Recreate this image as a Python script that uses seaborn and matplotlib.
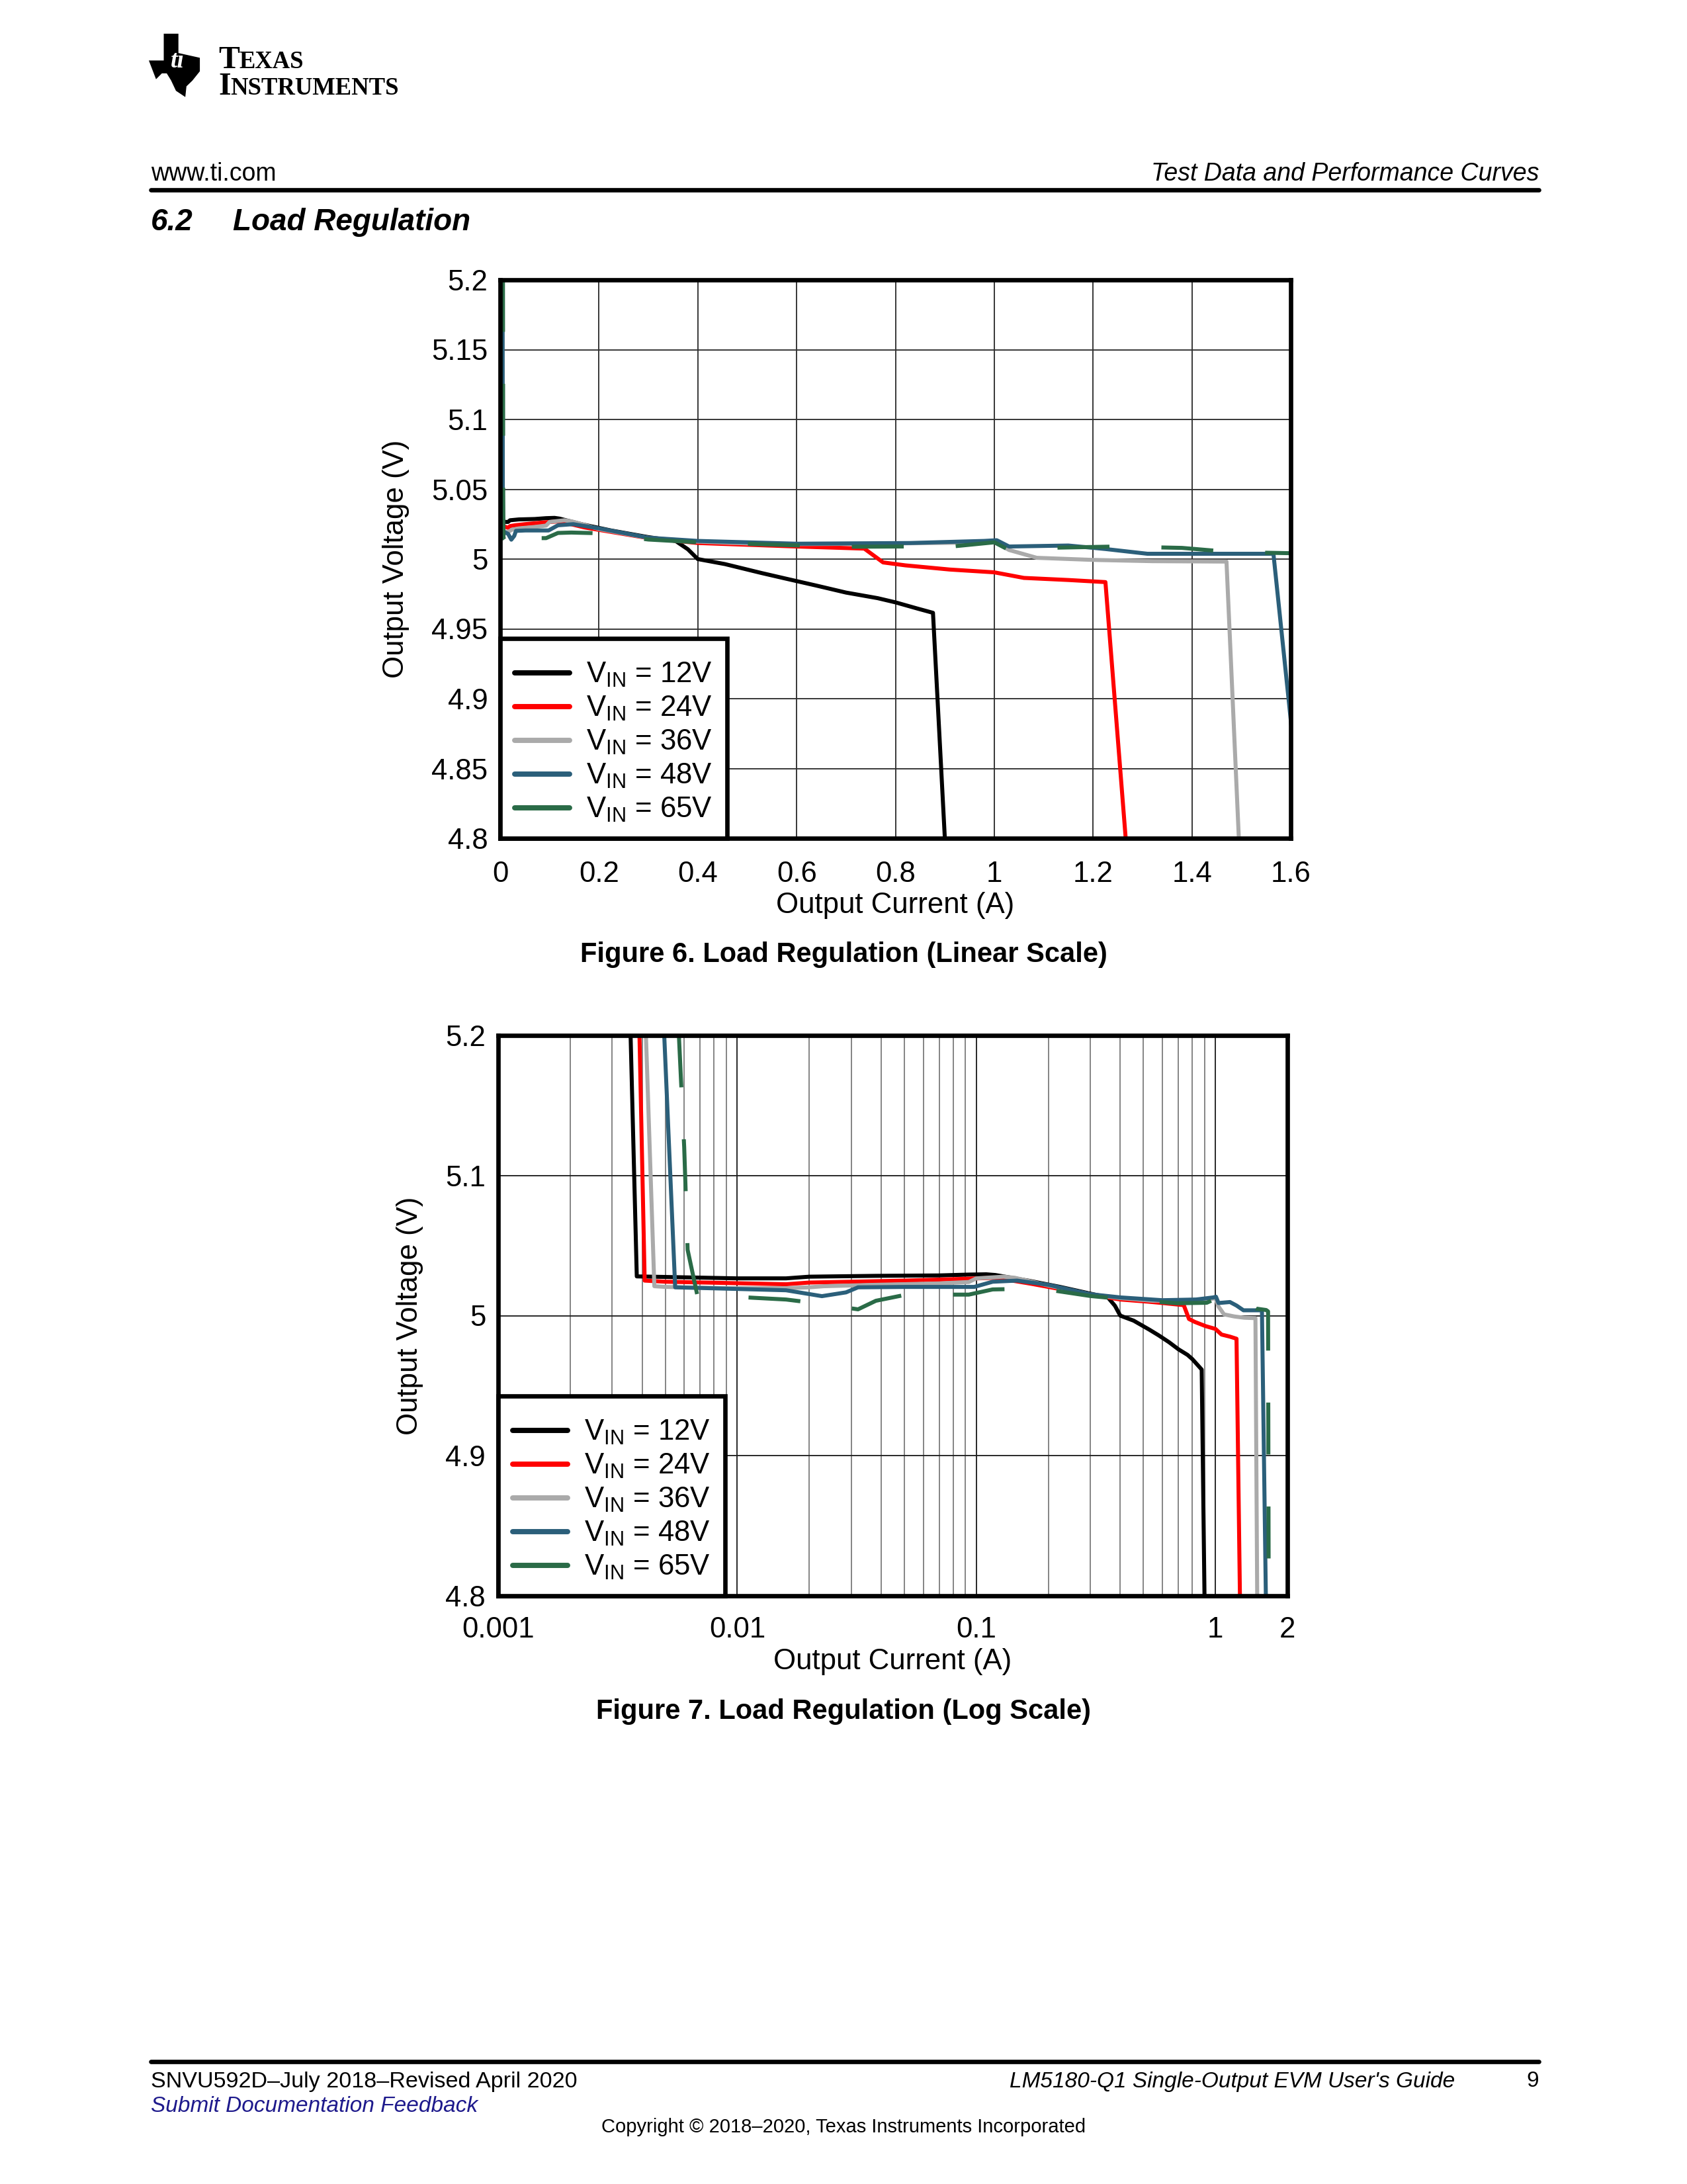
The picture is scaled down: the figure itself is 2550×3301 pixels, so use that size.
import matplotlib
matplotlib.use("Agg")
import numpy as np
import pandas as pd
import matplotlib.pyplot as plt
import seaborn as sns
from matplotlib.lines import Line2D
from matplotlib.patches import Polygon
from matplotlib.ticker import FixedLocator, FuncFormatter, NullFormatter

# load regulation curves
vin_labels = ["12V", "24V", "36V", "48V", "65V"]
line_colors = ["#000000", "#FF0000", "#AAAAAA", "#2B5F7A", "#2A6B47"]

i_12v = [0.00358, 0.0038, 0.0066, 0.01, 0.016, 0.02, 0.038, 0.07, 0.093, 0.11, 0.12, 0.167,
         0.224, 0.3, 0.355, 0.38, 0.40, 0.455, 0.529, 0.578, 0.64, 0.70, 0.764, 0.80, 0.845,
         0.876, 0.90]
v_12v = [5.2, 5.028, 5.0272, 5.0266, 5.0266, 5.0278, 5.0284, 5.0287, 5.0293, 5.0295, 5.029,
         5.0248, 5.0205, 5.0157, 5.013, 5.007, 5.0, 4.9964, 4.990, 4.986, 4.981, 4.976, 4.972,
         4.969, 4.9645, 4.9615, 4.8]

i_24v = [0.0039, 0.0041, 0.005, 0.009, 0.016, 0.02, 0.03, 0.05, 0.09, 0.12, 0.17, 0.3, 0.4,
         0.52, 0.6, 0.737, 0.775, 0.82, 0.91, 1.0, 1.06, 1.15, 1.225, 1.266]
v_24v = [5.2, 5.025, 5.0242, 5.0233, 5.0224, 5.0236, 5.0242, 5.025, 5.0263, 5.027, 5.0227,
         5.015, 5.0115, 5.0100, 5.009, 5.0075, 4.9976, 4.9955, 4.9925, 4.9905, 4.9865, 4.9850,
         4.9835, 4.8]

i_36v = [0.00415, 0.0045, 0.005, 0.009, 0.016, 0.02, 0.023, 0.038, 0.07, 0.093, 0.1, 0.13,
         0.145, 0.2, 0.3, 0.4, 0.55, 0.75, 0.95, 1.0, 1.03, 1.086, 1.2, 1.32, 1.47, 1.495]
v_36v = [5.2, 5.021, 5.0205, 5.0196, 5.0196, 5.0202, 5.021, 5.022, 5.023, 5.024, 5.0266,
         5.0278, 5.027, 5.0215, 5.0152, 5.0125, 5.0106, 5.011, 5.0118, 5.0125, 5.0065, 5.0009,
         4.9994, 4.9985, 4.9982, 4.8]

i_48v = [0.00495, 0.0055, 0.0088, 0.016, 0.0226, 0.0285, 0.032, 0.051, 0.098, 0.117, 0.148,
         0.2, 0.3, 0.4, 0.6, 0.83, 0.98, 1.005, 1.03, 1.15, 1.225, 1.31, 1.565, 1.625]
v_48v = [5.2, 5.0202, 5.0193, 5.0181, 5.0139, 5.0166, 5.0202, 5.0205, 5.0205, 5.0242, 5.025,
         5.022, 5.0153, 5.013, 5.011, 5.0115, 5.013, 5.0135, 5.009, 5.0097, 5.0072, 5.0038,
         5.0038, 4.8]

i_65v = [0.0057, 0.006, 0.0062, 0.0068, 0.0118, 0.016, 0.0195, 0.032, 0.038, 0.051, 0.093,
         0.117, 0.144, 0.2, 0.3, 0.4, 0.69, 0.92, 1.0, 1.03, 1.1, 1.25, 1.38, 1.48, 1.63,
         1.66, 1.67]
v_65v = [5.2, 5.12, 5.047, 5.015, 5.0127, 5.0115, 5.0097, 5.0045, 5.0106, 5.015, 5.015,
         5.0187, 5.019, 5.0185, 5.014, 5.012, 5.0088, 5.0092, 5.012, 5.0065, 5.008, 5.009,
         5.008, 5.005, 5.004, 5.003, 4.8]

currents = [i_12v, i_24v, i_36v, i_48v, i_65v]
voltages = [v_12v, v_24v, v_36v, v_48v, v_65v]

lin_xticks = [0, 0.2, 0.4, 0.6, 0.8, 1.0, 1.2, 1.4, 1.6]
lin_yticks = [4.8, 4.85, 4.9, 4.95, 5.0, 5.05, 5.1, 5.15, 5.2]
log_xticks = [0.001, 0.01, 0.1, 1, 2]
log_yticks = [4.8, 4.9, 5.0, 5.1, 5.2]

df = pd.concat([pd.DataFrame({"current": i, "voltage": v, "vin": lab})
                for i, v, lab in zip(currents, voltages, vin_labels)], ignore_index=True)

sns.set_theme(style="white")
plt.rcParams['font.family'] = ['Liberation Sans', 'DejaVu Sans']
plt.rcParams['mathtext.fontset'] = 'custom'
plt.rcParams['mathtext.rm'] = 'Liberation Sans'
plt.rcParams['mathtext.it'] = 'Liberation Sans:italic'
plt.rcParams['mathtext.bf'] = 'Liberation Sans:bold'
plt.rcParams['text.color'] = 'black'
plt.rcParams['axes.labelcolor'] = 'black'
plt.rcParams['xtick.color'] = 'black'
plt.rcParams['ytick.color'] = 'black'

W, H = 2550, 3301
fig = plt.figure(figsize=(W / 300, H / 300), dpi=300)


def fx(px):
    return px / W


def fy(py):
    return 1 - py / H


FS = 10.5


def draw_curves(ax):
    for lab, col in zip(vin_labels, line_colors):
        ls = (0, (13, 13)) if lab == "65V" else "-"
        sns.lineplot(data=df[df["vin"] == lab], x="current", y="voltage", ax=ax,
                     color=col, lw=1.45, sort=False, estimator=None, linestyle=ls,
                     legend=False)


def style_axes(ax, xpad):
    for sp in ax.spines.values():
        sp.set_linewidth(1.6)
        sp.set_color('black')
        sp.set_zorder(5)
    ax.tick_params(which='both', length=0, labelsize=FS)
    ax.tick_params(axis='x', pad=xpad)
    ax.tick_params(axis='y', pad=4.5)
    ax.set_xlabel("Output Current (A)", fontsize=FS, labelpad=1.5)
    ax.set_ylabel("Output Voltage (V)", fontsize=FS, labelpad=8)
    handles = [Line2D([], [], color=c, lw=1.9) for c in line_colors]
    labels = [r"V$_{\mathrm{IN}}$ = " + lab for lab in vin_labels]
    leg = ax.legend(handles, labels, loc='lower left', bbox_to_anchor=(0, 0),
                    borderaxespad=0, frameon=True, fancybox=False, edgecolor='black',
                    framealpha=1, fontsize=FS, handlelength=1.9, handletextpad=0.57,
                    borderpad=0.5, labelspacing=0.2, title=" ", title_fontsize=0.6)
    leg.get_frame().set_linewidth(1.6)
    leg.set_zorder(6)


gfmt = FuncFormatter(lambda v, _: f"{v:g}")

# Figure 6: linear scale
ax1 = fig.add_axes([fx(756), fy(1267), fx(1951) - fx(756), fy(423) - fy(1267)])
draw_curves(ax1)
ax1.set_xlim(0, 1.6)
ax1.set_ylim(4.8, 5.2)
ax1.xaxis.set_major_locator(FixedLocator(lin_xticks))
ax1.yaxis.set_major_locator(FixedLocator(lin_yticks))
ax1.xaxis.set_major_formatter(gfmt)
ax1.yaxis.set_major_formatter(gfmt)
ax1.grid(True, which='major', color='#303030', lw=0.45)
style_axes(ax1, 8.2)

# Figure 7: log scale
ax2 = fig.add_axes([fx(753), fy(2412), fx(1946) - fx(753), fy(1565) - fy(2412)])
ax2.set_xscale('log')
draw_curves(ax2)
ax2.set_xlim(0.001, 2)
ax2.set_ylim(4.8, 5.2)
ax2.xaxis.set_major_locator(FixedLocator(log_xticks))
ax2.xaxis.set_minor_locator(FixedLocator(
    [m * 10.0 ** e for e in (-3, -2, -1, 0) for m in range(2, 10) if m * 10.0 ** e < 2]))
ax2.xaxis.set_minor_formatter(NullFormatter())
ax2.yaxis.set_major_locator(FixedLocator(log_yticks))
ax2.xaxis.set_major_formatter(gfmt)
ax2.yaxis.set_major_formatter(gfmt)
ax2.grid(True, which='major', color='#202020', lw=0.45)
ax2.grid(True, which='minor', axis='x', color='#808080', lw=0.45)
style_axes(ax2, 7.5)

# page header
logo = [(0.30, 0.0), (0.55, 0.0), (0.55, 0.32), (1.0, 0.40), (1.0, 0.60), (0.85, 0.75),
        (0.72, 0.85), (0.70, 1.0), (0.55, 0.92), (0.45, 0.75), (0.35, 0.62), (0.22, 0.62),
        (0.12, 0.70), (0.0, 0.45), (0.30, 0.45)]
fig.add_artist(Polygon([(fx(228 + 72 * a), fy(53 + 90 * b)) for a, b in logo],
                       closed=True, color='black', transform=fig.transFigure))
fig.text(fx(268), fy(92), "ti", color='white', fontsize=9, fontweight='bold',
         style='italic', ha='center', va='center', family='Liberation Serif')

renderer = fig.canvas.get_renderer()


def small_caps(x, y, word, big, small):
    t = fig.text(fx(x), fy(y), word[0], fontsize=big, family='Liberation Serif',
                 fontweight='bold', va='baseline')
    x1 = t.get_window_extent(renderer).x1
    fig.text(x1 / W, fy(y), word[1:], fontsize=small, family='Liberation Serif',
             fontweight='bold', va='baseline')


small_caps(330, 103, "TEXAS", 11.5, 8.8)
small_caps(330, 143, "INSTRUMENTS", 11.5, 8.8)

fig.text(fx(228), fy(263), "www.ti.com", fontsize=9, va='center', ha='left')
fig.text(fx(2326), fy(263), "Test Data and Performance Curves", fontsize=9,
         style='italic', va='center', ha='right')
fig.add_artist(Line2D([fx(228), fx(2326)], [fy(287), fy(287)], lw=1.6, color='black',
                      transform=fig.transFigure))
fig.text(fx(228), fy(336), "6.2", fontsize=11, fontweight='bold', style='italic',
         va='center')
fig.text(fx(352), fy(336), "Load Regulation", fontsize=11, fontweight='bold',
         style='italic', va='center')

fig.text(0.5, fy(1443), "Figure 6. Load Regulation (Linear Scale)", fontsize=10,
         fontweight='bold', ha='center', va='center')
fig.text(0.5, fy(2587), "Figure 7. Load Regulation (Log Scale)", fontsize=10,
         fontweight='bold', ha='center', va='center')

# page footer
fig.add_artist(Line2D([fx(228), fx(2326)], [fy(3116), fy(3116)], lw=1.6, color='black',
                      transform=fig.transFigure))
fig.text(fx(228), fy(3146), "SNVU592D\u2013July 2018\u2013Revised April 2020", fontsize=8.2,
         va='center')
fig.text(fx(228), fy(3184), "Submit Documentation Feedback", fontsize=8, style='italic',
         color='#1E1A8C', va='center')
fig.text(fx(2199), fy(3146), "LM5180-Q1 Single-Output EVM User's Guide", fontsize=8,
         style='italic', ha='right', va='center')
fig.text(fx(2326), fy(3146), "9", fontsize=8, ha='right', va='center')
fig.text(0.5, fy(3215), "Copyright \u00a9 2018\u20132020, Texas Instruments Incorporated",
         fontsize=7, ha='center', va='center')

fig.savefig("out.png", dpi=300)
